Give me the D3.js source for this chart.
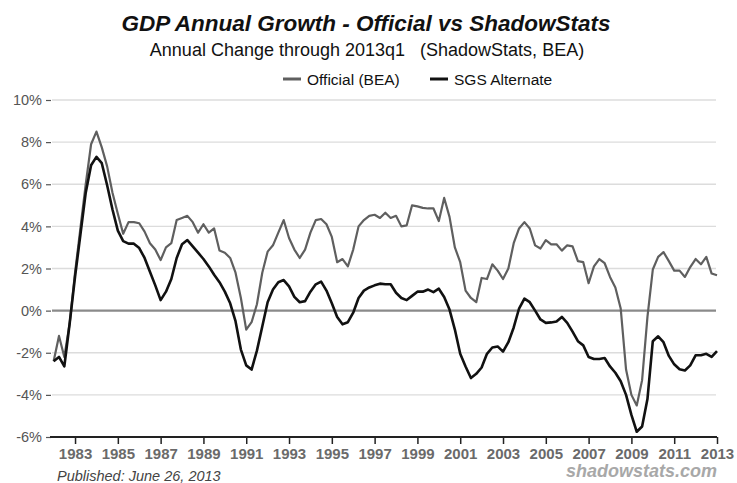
<!DOCTYPE html>
<html><head><meta charset="utf-8">
<script src="https://cdn.jsdelivr.net/npm/d3@7/dist/d3.min.js"></script>
<style>
html,body{margin:0;padding:0;background:#fff;}
svg{display:block;font-family:"Liberation Sans",Arial,sans-serif;}
</style></head>
<body>
<svg id="chart" width="737" height="483"></svg>
<script>
const startYear = 1982; // first quarter 1982q1, quarterly through 2013q1
const official = [
-2.4,-1.2,-2.2,-0.6,
1.8,3.9,6.0,7.9,
8.5,7.75,6.85,5.6,
4.6,3.65,4.2,4.2,
4.15,3.75,3.2,2.9,
2.4,3.0,3.2,4.3,
4.4,4.5,4.2,3.7,
4.1,3.7,3.9,2.85,
2.75,2.5,1.8,0.6,
-0.9,-0.55,0.3,1.8,
2.8,3.1,3.7,4.3,
3.45,2.9,2.5,2.9,
3.7,4.3,4.35,4.1,
3.5,2.3,2.45,2.1,
2.9,4.0,4.3,4.5,
4.55,4.4,4.65,4.4,
4.5,4.0,4.05,5.0,
4.95,4.88,4.85,4.85,
4.25,5.35,4.45,3.0,
2.3,0.95,0.6,0.4,
1.55,1.5,2.2,1.9,
1.5,2.0,3.2,3.9,
4.2,3.9,3.1,2.95,
3.35,3.15,3.15,2.85,
3.1,3.05,2.35,2.3,
1.3,2.1,2.45,2.25,
1.6,1.1,0.1,-2.8,
-4.0,-4.5,-3.3,-0.3,
1.95,2.55,2.78,2.35,
1.9,1.9,1.6,2.07,
2.45,2.2,2.55,1.76,
1.68];
const sgs = [
-2.4,-2.2,-2.65,-0.6,
1.6,3.6,5.6,6.9,
7.3,7.0,5.95,4.8,
3.8,3.3,3.18,3.18,
2.97,2.5,1.85,1.2,
0.5,0.9,1.5,2.5,
3.15,3.35,3.05,2.75,
2.45,2.1,1.7,1.35,
0.9,0.35,-0.5,-1.85,
-2.6,-2.8,-1.9,-0.75,
0.4,1.0,1.35,1.45,
1.15,0.65,0.4,0.45,
0.9,1.25,1.38,0.95,
0.35,-0.3,-0.65,-0.55,
-0.1,0.6,0.95,1.1,
1.2,1.28,1.25,1.25,
0.85,0.6,0.5,0.7,
0.9,0.9,1.0,0.88,
1.04,0.65,0.05,-0.9,
-2.05,-2.65,-3.2,-3.0,
-2.7,-2.05,-1.75,-1.7,
-1.95,-1.5,-0.8,0.1,
0.57,0.4,0.0,-0.42,
-0.58,-0.56,-0.52,-0.3,
-0.58,-1.0,-1.45,-1.65,
-2.2,-2.3,-2.3,-2.25,
-2.65,-2.95,-3.35,-4.0,
-4.95,-5.75,-5.5,-4.2,
-1.45,-1.22,-1.5,-2.15,
-2.55,-2.78,-2.84,-2.6,
-2.12,-2.12,-2.05,-2.2,
-1.92];
const yTicks = [10,8,6,4,2,0,-2,-4,-6];
const xTicks = [1983,1985,1987,1989,1991,1993,1995,1997,1999,2001,2003,2005,2007,2009,2011,2013];
const seriesNames = ["Official (BEA)","SGS Alternate"];
const titleText = "GDP Annual Growth - Official vs ShadowStats";
const subtitleText = "Annual Change through 2013q1   (ShadowStats, BEA)";
const publishedText = "Published: June 26, 2013";
const brandText = "shadowstats.com";

const svg = d3.select("#chart");
const x = d3.scaleLinear().domain([1981.83, 2013.0]).range([50, 717]);
const y = d3.scaleLinear().domain([-6, 10]).range([437, 100]);
const t = i => startYear + i/4;
const FONT = "'Liberation Sans',Arial,sans-serif";

// gridlines
svg.append("g").selectAll("line").data(yTicks.filter(d=>d!==0 && d!==-6)).join("line")
  .attr("x1",52).attr("x2",716).attr("y1",d=>y(d)).attr("y2",d=>y(d))
  .attr("stroke","#dcdcdc").attr("stroke-width",1.3);

// y axis labels with dash ticks
const yAxis = d3.axisLeft(y).tickValues(yTicks).tickSize(6).tickPadding(4)
  .tickFormat(d => d + "%");
const ya = svg.append("g").attr("transform","translate(52,0)").call(yAxis);
ya.select(".domain").remove();
ya.selectAll(".tick line").attr("stroke","#555").attr("stroke-width",1.2).attr("x1",-6).attr("x2",-1);
ya.selectAll(".tick text").attr("fill","#555").style("font-size","14.5px")
  .style("font-family",FONT).attr("x",-10);

// zero line
svg.append("line").attr("x1",52).attr("x2",716).attr("y1",y(0)).attr("y2",y(0))
  .attr("stroke","#8a8a8a").attr("stroke-width",2.2);

// x axis
const xAxis = d3.axisBottom(x).tickValues(xTicks).tickSize(7).tickPadding(4).tickFormat(d3.format("d"));
const xa = svg.append("g").attr("transform",`translate(0,${y(-6)})`).call(xAxis);
xa.select(".domain").attr("d","M50,0H717").attr("stroke","#222").attr("stroke-width",1.8);
xa.selectAll(".tick line").attr("stroke","#222").attr("stroke-width",1.5);
xa.selectAll(".tick text").attr("fill","#6a6a6a").style("font-size","15px").style("font-weight","bold")
  .style("font-family",FONT);

// lines
const line = d3.line().x((d,i)=>x(t(i))).y(d=>y(d)).curve(d3.curveLinear);
svg.append("path").datum(official).attr("d",line).attr("fill","none")
  .attr("stroke","#5f5f5f").attr("stroke-width",2.2).attr("stroke-linejoin","round");
svg.append("path").datum(sgs).attr("d",line).attr("fill","none")
  .attr("stroke","#111").attr("stroke-width",2.6).attr("stroke-linejoin","round");

// titles
svg.append("text").attr("x",366).attr("y",31).attr("text-anchor","middle")
  .style("font-size","22.5px").style("font-weight","bold").style("font-style","italic").attr("fill","#111")
  .text(titleText);
svg.append("text").attr("x",367).attr("y",56).attr("text-anchor","middle")
  .style("font-size","18px").attr("fill","#111").style("white-space","pre")
  .text(subtitleText);

// legend
const legend = [{name:seriesNames[0],color:"#5f5f5f",x0:283},{name:seriesNames[1],color:"#111",x0:430}];
const lg = svg.append("g");
legend.forEach(l=>{
  lg.append("line").attr("x1",l.x0).attr("x2",l.x0+18).attr("y1",79).attr("y2",79)
    .attr("stroke",l.color).attr("stroke-width",3);
  lg.append("text").attr("x",l.x0+24).attr("y",85).style("font-size","15.5px").attr("fill","#111").text(l.name);
});

// footer
svg.append("text").attr("x",57).attr("y",481).style("font-size","14.5px").style("font-style","italic")
  .attr("fill","#444").text(publishedText);
svg.append("text").attr("x",717).attr("y",477).attr("text-anchor","end").style("font-size","18px")
  .style("font-style","italic").style("font-weight","bold").attr("fill","#a8a8a8").text(brandText);
</script>
</body></html>
